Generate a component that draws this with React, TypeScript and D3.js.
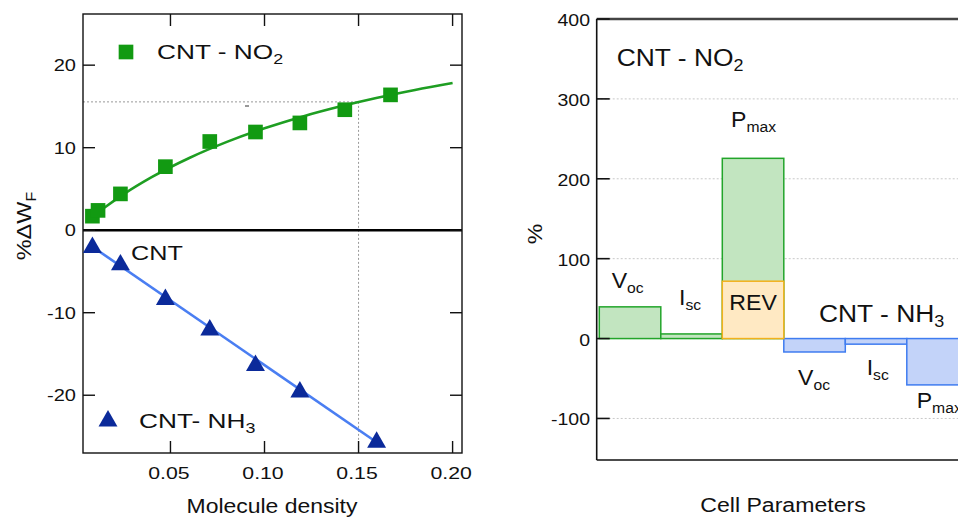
import React from "react";
import * as d3 from "d3";

// ---------- Left panel data ----------
const no2X = [0.0085, 0.0115, 0.0234, 0.0473, 0.0709, 0.0952, 0.1188, 0.1427, 0.167];
const no2Y = [1.7, 2.4, 4.4, 7.7, 10.75, 11.9, 13.0, 14.6, 16.4];
const no2FitX = [0.0085, 0.015, 0.025, 0.04, 0.06, 0.08, 0.1, 0.12, 0.14, 0.16, 0.18, 0.2];
const no2FitY = [1.62, 2.75, 4.34, 6.42, 8.75, 10.7, 12.35, 13.76, 14.98, 16.05, 16.99, 17.83];
const nh3X = [0.0085, 0.0234, 0.0473, 0.0709, 0.0952, 0.1188, 0.1596];
const nh3Y = [-2.1, -4.2, -8.4, -12.1, -16.4, -19.6, -25.7];
const nh3FitX = [0.0085, 0.1596];
const nh3FitY = [-2.0, -25.7];
const leftXTicks = [0.05, 0.1, 0.15, 0.2];
const leftXTickLabels = ["0.05", "0.10", "0.15", "0.20"];
const leftYTicks = [-20, -10, 0, 10, 20];
const guideX = 0.15;
const guideY = 15.55;

// ---------- Right panel data ----------
const barCats = ["Voc_NO2", "Isc_NO2", "Pmax_NO2", "Voc_NH3", "Isc_NH3", "Pmax_NH3"];
const barVals = [39.7, 5.8, 225.6, -16.8, -7.0, -58.0];
const barGroup = ["no2", "no2", "no2", "nh3", "nh3", "nh3"];
const revCat = "Pmax_NO2";
const revVal = 71.8;
const rightYTicks = [-100, 0, 100, 200, 300, 400];

const FONT = "'Liberation Sans', Arial, Helvetica, sans-serif";

type TProps = {
  x: number; y: number; size: number; sx?: number; anchor?: string; rotate?: number;
  children: React.ReactNode; fill?: string;
};
function T({ x, y, size, sx = 1.15, anchor = "start", rotate = 0, children, fill = "#111" }: TProps) {
  return (
    <text
      transform={`translate(${x},${y}) rotate(${rotate}) scale(${sx},1)`}
      fontSize={size}
      fontFamily={FONT}
      textAnchor={anchor}
      fill={fill}
    >
      {children}
    </text>
  );
}

function Sub({ main, sub, size }: { main: string; sub: string; size: number }) {
  return (
    <>
      <tspan>{main}</tspan>
      <tspan fontSize={size * 0.68} dy={size * 0.22}>{sub}</tspan>
    </>
  );
}

export default function App() {
  // Left panel scales
  const L = { x0: 83, x1: 462, y0: 14, y1: 453 };
  const x = d3.scaleLinear().domain([0.0035, 0.205]).range([L.x0, L.x1]);
  const y = d3.scaleLinear().domain([-27, 26.2]).range([L.y1, L.y0]);

  const fitLine = d3
    .line<number>()
    .x((_, i) => x(no2FitX[i]))
    .y((d) => y(d))
    .curve(d3.curveMonotoneX);
  const nh3Line = d3
    .line<number>()
    .x((_, i) => x(nh3FitX[i]))
    .y((d) => y(d));

  const sq = d3.symbol().type(d3.symbolSquare).size(215)()!;
  const tri = d3.symbol().type(d3.symbolTriangle).size(155)()!;

  // Right panel scales
  const R = { x0: 596.7, x1: 971, y0: 19, y1: 460 };
  const xb = d3.scaleBand<string>().domain(barCats).range([599.3, 968.3]).padding(0);
  const yr = d3.scaleLinear().domain([-152, 400]).range([R.y1, R.y0]);

  const green = { fill: "#c2e5c0", stroke: "#22a52a" };
  const blue = { fill: "#c3d3f9", stroke: "#3f7cf0" };
  const orange = { fill: "#ffe9c3", stroke: "#f2b11c" };

  const tick = 12;

  return (
    <svg
      width={958}
      height={520}
      style={{ position: "absolute", left: 0, top: 0, background: "#fff" }}
    >
      {/* ================= LEFT PANEL ================= */}
      <line x1={L.x0} x2={x(guideX)} y1={y(guideY)} y2={y(guideY)} stroke="#999" strokeWidth={1} strokeDasharray="2,2" />
      <line x1={x(guideX)} x2={x(guideX)} y1={y(guideY)} y2={L.y1} stroke="#999" strokeWidth={1} strokeDasharray="2,2" />
      <line x1={245} x2={249} y1={106} y2={106} stroke="#333" strokeWidth={1} />

      <line x1={L.x0} x2={L.x1} y1={y(0)} y2={y(0)} stroke="#000" strokeWidth={2.5} />

      <rect x={L.x0} y={L.y0} width={L.x1 - L.x0} height={L.y1 - L.y0} fill="none" stroke="#111" strokeWidth={1.4} />

      {leftYTicks.map((t) => (
        <g key={"ly" + t}>
          <line x1={L.x0} x2={L.x0 + tick} y1={y(t)} y2={y(t)} stroke="#111" strokeWidth={1.4} />
          <line x1={L.x1 - tick} x2={L.x1} y1={y(t)} y2={y(t)} stroke="#111" strokeWidth={1.4} />
          <T x={76} y={y(t) + 6} size={16} sx={1.25} anchor="end">{String(t)}</T>
        </g>
      ))}
      {leftXTicks.map((t, i) => (
        <g key={"lx" + t}>
          <line x1={x(t)} x2={x(t)} y1={L.y0} y2={L.y0 + tick} stroke="#111" strokeWidth={1.4} />
          <line x1={x(t)} x2={x(t)} y1={L.y1 - tick} y2={L.y1} stroke="#111" strokeWidth={1.4} />
          <T x={x(t) - 1.5} y={479} size={16} sx={1.33} anchor="middle">{leftXTickLabels[i]}</T>
        </g>
      ))}

      <path d={fitLine(no2FitY)!} fill="none" stroke="#1e9e22" strokeWidth={2.6} />
      <path d={nh3Line(nh3FitY)!} fill="none" stroke="#4a7ef2" strokeWidth={2.6} />

      {no2Y.map((v, i) => (
        <path key={"s" + i} d={sq} transform={`translate(${x(no2X[i])},${y(v)})`} fill="#129a12" />
      ))}
      {nh3Y.map((v, i) => (
        <path key={"t" + i} d={tri} transform={`translate(${x(nh3X[i])},${y(v)})`} fill="#0b2a9a" />
      ))}

      <path d={sq} transform="translate(126,52)" fill="#129a12" />
      <T x={157} y={59} size={21} sx={1.25}><Sub main="CNT - NO" sub="2" size={21} /></T>
      <path d={tri} transform="translate(108,421)" fill="#0b2a9a" />
      <T x={139} y={428} size={21} sx={1.25}><Sub main="CNT- NH" sub="3" size={21} /></T>
      <T x={131} y={260} size={21} sx={1.2}>CNT</T>

      <T x={31} y={226} size={21} sx={1.12} rotate={-90} anchor="middle"><Sub main="%ΔW" sub="F" size={21} /></T>
      <T x={272} y={513} size={20.5} sx={1.12} anchor="middle">Molecule density</T>

      {/* ================= RIGHT PANEL ================= */}
      {rightYTicks.filter((t) => t !== 400).map((t) => (
        <line key={"g" + t} x1={R.x0} x2={R.x1} y1={yr(t)} y2={yr(t)} stroke="#c8c8c8" strokeWidth={1} strokeDasharray="2,2" />
      ))}

      {barVals.map((v, i) => {
        const c = barGroup[i] === "no2" ? green : blue;
        const x0 = xb(barCats[i])!;
        return (
          <rect
            key={"b" + i}
            x={x0}
            width={xb.bandwidth()}
            y={Math.min(yr(v), yr(0))}
            height={Math.abs(yr(v) - yr(0))}
            fill={c.fill}
            stroke={c.stroke}
            strokeWidth={1.5}
          />
        );
      })}
      <rect
        x={xb(revCat)!}
        width={xb.bandwidth()}
        y={yr(revVal)}
        height={yr(0) - yr(revVal)}
        fill={orange.fill}
        stroke={orange.stroke}
        strokeWidth={1.5}
      />

      <line x1={R.x0} x2={R.x1} y1={R.y0} y2={R.y0} stroke="#444" strokeWidth={2.5} />
      <line x1={R.x0} x2={R.x0} y1={R.y0} y2={R.y1} stroke="#111" strokeWidth={1.6} />
      <line x1={R.x0} x2={R.x1} y1={R.y1} y2={R.y1} stroke="#111" strokeWidth={1.6} />
      <line x1={R.x1} x2={R.x1} y1={R.y0} y2={R.y1} stroke="#111" strokeWidth={1.6} />

      {rightYTicks.map((t) => (
        <g key={"ry" + t}>
          <line x1={R.x0} x2={R.x0 + 13} y1={yr(t)} y2={yr(t)} stroke="#111" strokeWidth={1.6} />
          <line x1={R.x1 - 13} x2={R.x1} y1={yr(t)} y2={yr(t)} stroke="#111" strokeWidth={1.6} />
          <T x={590} y={yr(t) + 7} size={16} sx={1.22} anchor="end">{String(t)}</T>
        </g>
      ))}

      <T x={616.7} y={65.5} size={24} sx={1.1}><Sub main="CNT - NO" sub="2" size={24} /></T>
      <T x={731} y={127} size={22} sx={1.05}><Sub main="P" sub="max" size={22} /></T>
      <T x={611.7} y={288} size={22} sx={1.05}><Sub main="V" sub="oc" size={22} /></T>
      <T x={679} y={305} size={22} sx={1.05}><Sub main="I" sub="sc" size={22} /></T>
      <T x={xb(revCat)! + xb.bandwidth() / 2} y={310} size={22} sx={1.05} anchor="middle">REV</T>
      <T x={819} y={322} size={24} sx={1.1}><Sub main="CNT - NH" sub="3" size={24} /></T>
      <T x={798} y={385} size={22} sx={1.05}><Sub main="V" sub="oc" size={22} /></T>
      <T x={866.7} y={375} size={22} sx={1.05}><Sub main="I" sub="sc" size={22} /></T>
      <T x={916.7} y={408} size={22} sx={1.05}><Sub main="P" sub="max" size={22} /></T>

      <T x={542} y={234} size={21} sx={1.1} rotate={-90} anchor="middle">%</T>
      <T x={783} y={512} size={21} sx={1.1} anchor="middle">Cell Parameters</T>
    </svg>
  );
}
